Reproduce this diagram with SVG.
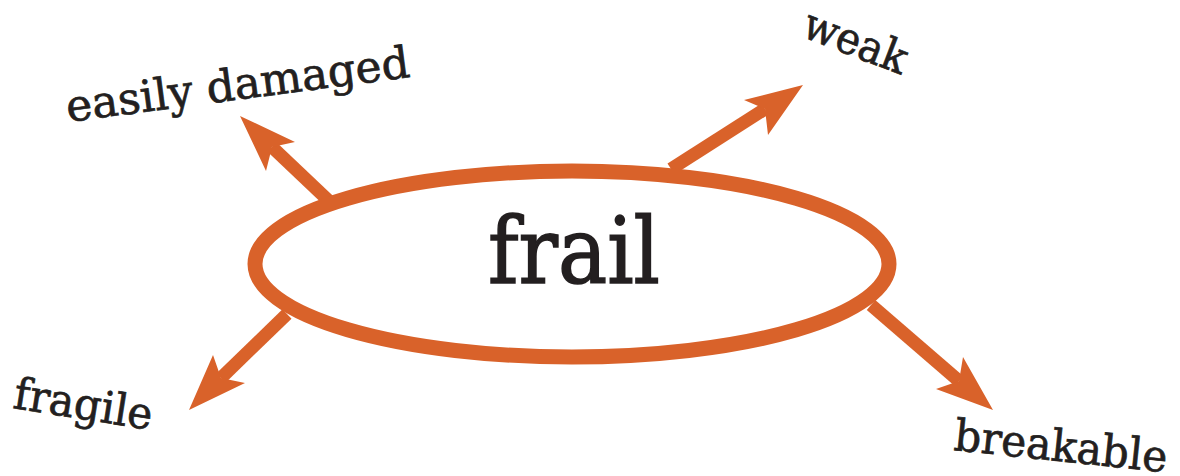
<svg xmlns="http://www.w3.org/2000/svg" width="1180" height="476" viewBox="0 0 1180 476">
<style>
.lbl{font-family:"DejaVu Serif","Liberation Serif",serif;font-size:44px;fill:#231F20;stroke:#231F20;stroke-width:0.7}
.main{font-family:"DejaVu Serif","Liberation Serif",serif;font-size:92px;fill:#231F20;stroke:#231F20;stroke-width:1.6}
.shaft{stroke:#D9622A;stroke-width:13;fill:none}
.head{fill:#D9622A}
</style>
<rect width="1180" height="476" fill="#fff"/>
<g id="connectors">
<line class="shaft" x1="330" y1="202" x2="272" y2="147"/>
<polygon class="head" points="240,116 295,142 272,147 266,171"/>
<line class="shaft" x1="671" y1="169" x2="765" y2="109"/>
<polygon class="head" points="803,85 768,135 765,109 744,100"/>
<line class="shaft" x1="287" y1="314" x2="221" y2="378"/>
<polygon class="head" points="189,410 213,355 221,378 245,383"/>
<line class="shaft" x1="871" y1="305" x2="959" y2="381"/>
<polygon class="head" points="993,410 936,389 959,381 963,357"/>
</g>
<g id="frail">
<ellipse cx="572" cy="264" rx="317" ry="93" fill="#fff" stroke="#D9622A" stroke-width="15"/>
<text class="main" x="574" y="283" text-anchor="middle" textLength="172" lengthAdjust="spacingAndGlyphs">frail</text>
</g>
<g id="easily-damaged">
<text class="lbl" x="68" y="122" transform="rotate(-7.5 68 122)" textLength="346" lengthAdjust="spacingAndGlyphs">easily damaged</text>
</g>
<g id="weak">
<text class="lbl" x="800" y="36" transform="rotate(21 800 36)" textLength="108" lengthAdjust="spacingAndGlyphs">weak</text>
</g>
<g id="fragile">
<text class="lbl" x="12" y="408" transform="rotate(9 12 408)" textLength="140" lengthAdjust="spacingAndGlyphs">fragile</text>
</g>
<g id="breakable">
<text class="lbl" x="953" y="450" transform="rotate(6 953 450)" textLength="214" lengthAdjust="spacingAndGlyphs">breakable</text>
</g>
</svg>
